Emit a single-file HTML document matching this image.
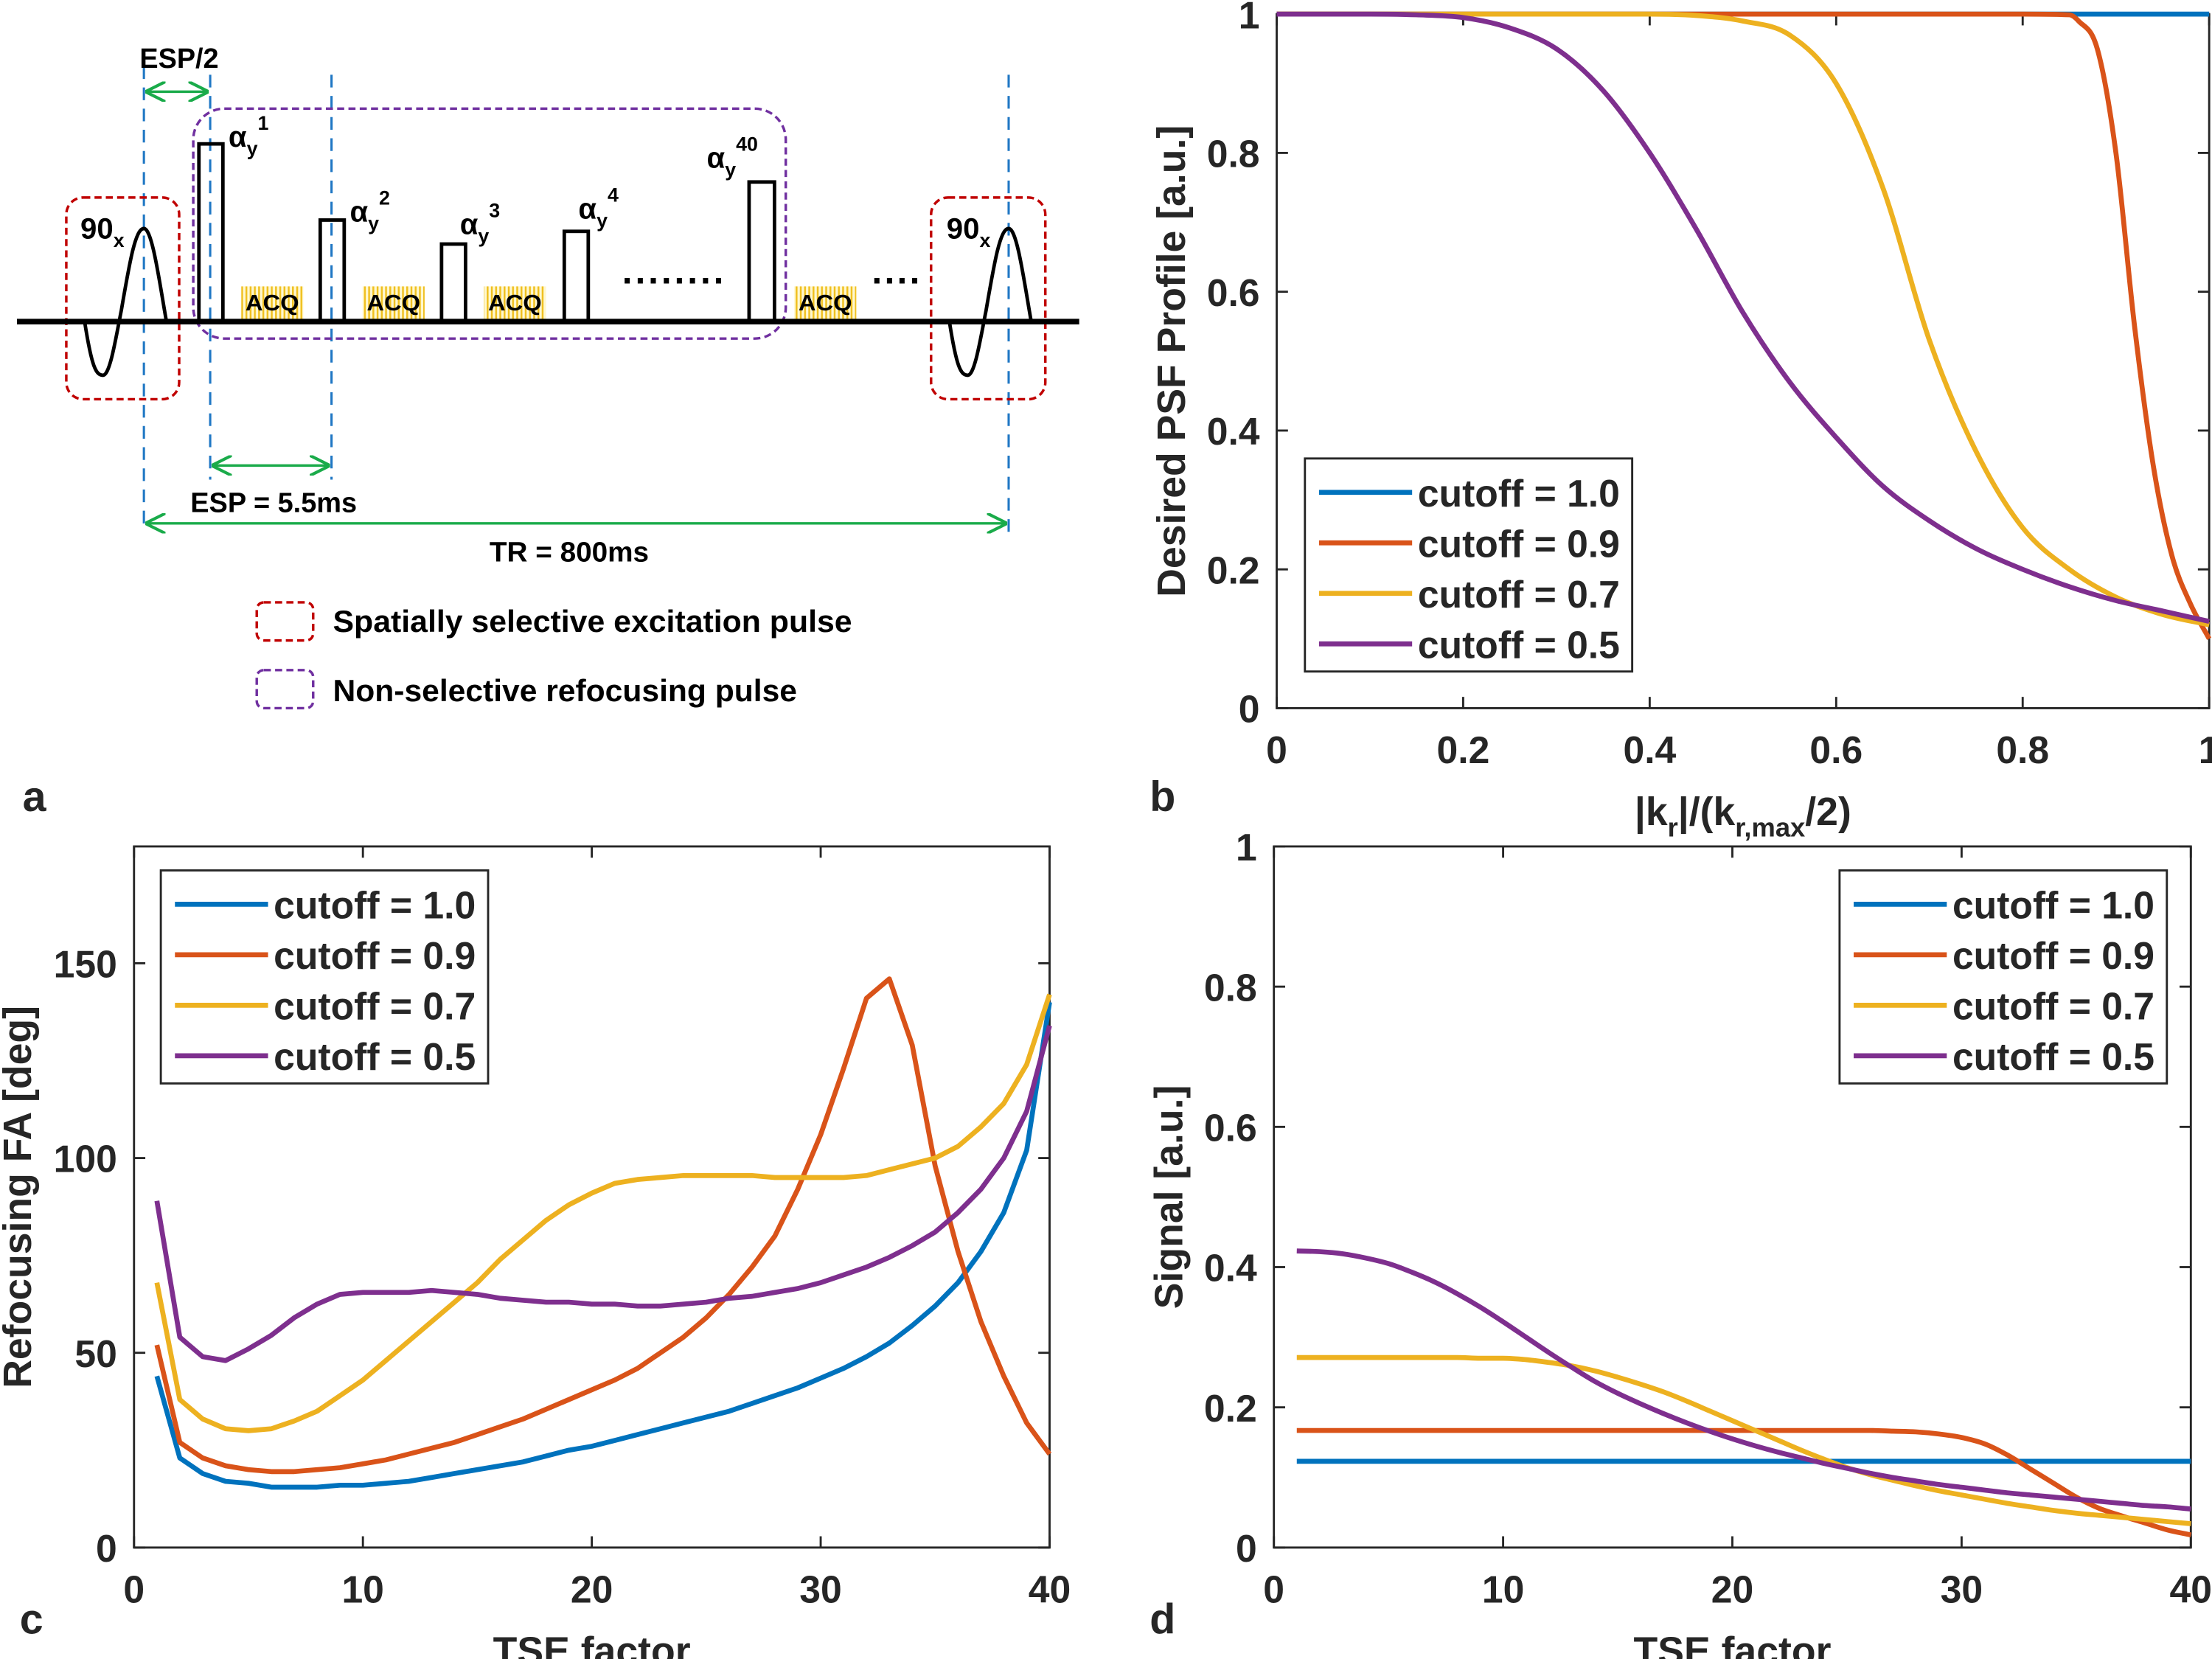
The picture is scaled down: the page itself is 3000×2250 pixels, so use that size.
<!DOCTYPE html>
<html><head><meta charset="utf-8"><style>
html,body{margin:0;padding:0;background:#fff;}
svg{display:block;}
text{font-family:"Liberation Sans",sans-serif;font-weight:bold;fill:#262626;}
.a text{fill:#000;}
</style></head><body>
<svg id="fig" width="3000" height="2250" viewBox="0 0 1568 1176" preserveAspectRatio="none" xmlns="http://www.w3.org/2000/svg">
<defs>
<pattern id="stripe" width="3" height="4" patternUnits="userSpaceOnUse"><rect width="3" height="4" fill="#fff8d0"/><rect width="1.3" height="4" fill="#f0c020"/></pattern>
<marker id="ah" viewBox="0 0 10 10" refX="10" refY="5" markerWidth="8" markerHeight="8" orient="auto-start-reverse"><path d="M0,0 L10,5 L0,10" fill="none" stroke="#1aab4a" stroke-width="1.5"/></marker>
</defs>
<!-- Panel a -->
<g class="a">
  <g stroke="#1f77c4" stroke-width="1.6" stroke-dasharray="9,6">
    <line x1="102" y1="47" x2="102" y2="377"/><line x1="149" y1="53" x2="149" y2="340"/>
    <line x1="235" y1="53" x2="235" y2="340"/><line x1="715" y1="53" x2="715" y2="377"/>
  </g>
  <rect x="47" y="140" width="80" height="143" rx="12" fill="none" stroke="#c00000" stroke-width="1.8" stroke-dasharray="5,3"/>
  <rect x="660" y="140" width="81" height="143" rx="12" fill="none" stroke="#c00000" stroke-width="1.8" stroke-dasharray="5,3"/>
  <rect x="137" y="77" width="420" height="163" rx="22" fill="none" stroke="#7030a0" stroke-width="1.8" stroke-dasharray="5,3"/>
  <g fill="url(#stripe)">
    <rect x="171" y="203" width="44" height="25"/><rect x="257" y="203" width="44" height="25"/>
    <rect x="343" y="203" width="44" height="25"/><rect x="563" y="203" width="44" height="25"/>
  </g>
  <g font-size="16" text-anchor="middle">
    <text x="193" y="220" textLength="38" lengthAdjust="spacingAndGlyphs">ACQ</text><text x="279" y="220" textLength="38" lengthAdjust="spacingAndGlyphs">ACQ</text><text x="365" y="220" textLength="38" lengthAdjust="spacingAndGlyphs">ACQ</text><text x="585" y="220" textLength="38" lengthAdjust="spacingAndGlyphs">ACQ</text>
  </g>
  <line x1="12" y1="228" x2="765" y2="228" stroke="#000" stroke-width="4"/>
  <g fill="none" stroke="#000" stroke-width="2.5">
    <rect x="141" y="102" width="17" height="126"/><rect x="227" y="156" width="17" height="72"/>
    <rect x="313" y="173" width="17" height="55"/><rect x="400" y="164" width="17" height="64"/>
    <rect x="531" y="129" width="18" height="99"/>
  </g>
  <path d="M60,228 C65,260 68,266 73,266 C78,266 82,240 86,220 C92,185 96,162 102,162 C108,162 113,200 118,228" fill="none" stroke="#000" stroke-width="2.5"/>
  <path d="M673,228 C678,260 681,266 686,266 C691,266 695,240 699,220 C705,185 709,162 715,162 C721,162 726,200 731,228" fill="none" stroke="#000" stroke-width="2.5"/>
  <g font-size="21">
    <text x="57" y="169">90<tspan font-size="14" dy="6">x</tspan></text>
    <text x="671" y="169">90<tspan font-size="14" dy="6">x</tspan></text>
    <text x="162" y="104">α<tspan font-size="14" dy="6">y</tspan><tspan font-size="14" dy="-18">1</tspan></text>
    <text x="248" y="157">α<tspan font-size="14" dy="6">y</tspan><tspan font-size="14" dy="-18">2</tspan></text>
    <text x="326" y="166">α<tspan font-size="14" dy="6">y</tspan><tspan font-size="14" dy="-18">3</tspan></text>
    <text x="410" y="155">α<tspan font-size="14" dy="6">y</tspan><tspan font-size="14" dy="-18">4</tspan></text>
    <text x="501" y="119">α<tspan font-size="14" dy="6">y</tspan><tspan font-size="14" dy="-18">40</tspan></text>
    <text x="441" y="201" font-size="26" textLength="72" lengthAdjust="spacing">........</text>
    <text x="618" y="201" font-size="26" textLength="34" lengthAdjust="spacing">....</text>
    <text x="99" y="48" font-size="20" textLength="56" lengthAdjust="spacingAndGlyphs">ESP/2</text>
    <text x="135" y="363" font-size="20" textLength="118" lengthAdjust="spacingAndGlyphs">ESP = 5.5ms</text>
    <text x="347" y="398" font-size="20" textLength="113" lengthAdjust="spacingAndGlyphs">TR = 800ms</text>
    <text x="236" y="448" font-size="22" textLength="368" lengthAdjust="spacingAndGlyphs">Spatially selective excitation pulse</text>
    <text x="236" y="497" font-size="22" textLength="329" lengthAdjust="spacingAndGlyphs">Non-selective refocusing pulse</text>
  </g>
  <g stroke="#1aab4a" stroke-width="1.8">
    <line x1="103" y1="65" x2="148" y2="65" marker-start="url(#ah)" marker-end="url(#ah)"/>
    <line x1="150" y1="330" x2="234" y2="330" marker-start="url(#ah)" marker-end="url(#ah)"/>
    <line x1="103" y1="371" x2="714" y2="371" marker-start="url(#ah)" marker-end="url(#ah)"/>
  </g>
  <rect x="182" y="427" width="40" height="27" rx="5" fill="none" stroke="#c00000" stroke-width="1.8" stroke-dasharray="5,3"/>
  <rect x="182" y="475" width="40" height="27" rx="5" fill="none" stroke="#7030a0" stroke-width="1.8" stroke-dasharray="5,3"/>
</g>
<g font-size="30">
  <text x="16" y="575" fill="#000">a</text><text x="815" y="575" fill="#000">b</text>
  <text x="14" y="1158" fill="#000">c</text><text x="815" y="1158" fill="#000">d</text>
</g>
<g id="charts"></g>
</svg>
<script>
// Panel b data
const bX90 = [0,0.8,0.85,0.86,0.88,0.9,0.92,0.94,0.96,0.98,1.0];
const bY90 = [1,1,0.999,0.99,0.95,0.8,0.55,0.35,0.22,0.15,0.1];
const bX = [0,0.05,0.1,0.15,0.2,0.25,0.3,0.35,0.4,0.45,0.5,0.55,0.6,0.65,0.7,0.75,0.8,0.85,0.9,0.95,1.0];
const bY100 = [1,1,1,1,1,1,1,1,1,1,1,1,1,1,1,1,1,1,1,1,1];
const bY70 = [1,1,1,1,1,1,1,1,1,0.998,0.99,0.97,0.9,0.75,0.53,0.37,0.26,0.2,0.16,0.135,0.12];
const bY50 = [1,1,1,0.999,0.995,0.98,0.95,0.89,0.8,0.69,0.57,0.47,0.39,0.32,0.27,0.23,0.2,0.175,0.155,0.14,0.125];
// Panel c data (TSE index 1..40)
const tse = [1,2,3,4,5,6,7,8,9,10,11,12,13,14,15,16,17,18,19,20,21,22,23,24,25,26,27,28,29,30,31,32,33,34,35,36,37,38,39,40];
const cFA100 = [44,23,19,17,16.5,15.5,15.5,15.5,16,16,16.5,17,18,19,20,21,22,23.5,25,26,27.5,29,30.5,32,33.5,35,37,39,41,43.5,46,49,52.5,57,62,68,76,86,102,140];
const cFA90 = [52,27,23,21,20,19.5,19.5,20,20.5,21.5,22.5,24,25.5,27,29,31,33,35.5,38,40.5,43,46,50,54,59,65,72,80,92,106,123,141,146,129,98,76,58,44,32,24];
const cFA70 = [68,38,33,30.5,30,30.5,32.5,35,39,43,48,53,58,63,68,74,79,84,88,91,93.5,94.5,95,95.5,95.5,95.5,95.5,95,95,95,95,95.5,97,98.5,100,103,108,114,124,142];
const cFA50 = [89,54,49,48,51,54.5,59,62.5,65,65.5,65.5,65.5,66,65.5,65,64,63.5,63,63,62.5,62.5,62,62,62.5,63,64,64.5,65.5,66.5,68,70,72,74.5,77.5,81,86,92,100,112,134];
// Panel d data
const dS100 = [0.123,0.123,0.123,0.123,0.123,0.123,0.123,0.123,0.123,0.123,0.123,0.123,0.123,0.123,0.123,0.123,0.123,0.123,0.123,0.123,0.123,0.123,0.123,0.123,0.123,0.123,0.123,0.123,0.123,0.123,0.123,0.123,0.123,0.123,0.123,0.123,0.123,0.123,0.123,0.123];
const dS90 = [0.167,0.167,0.167,0.167,0.167,0.167,0.167,0.167,0.167,0.167,0.167,0.167,0.167,0.167,0.167,0.167,0.167,0.167,0.167,0.167,0.167,0.167,0.167,0.167,0.167,0.167,0.166,0.165,0.162,0.157,0.148,0.132,0.112,0.092,0.072,0.056,0.045,0.035,0.025,0.018];
const dS70 = [0.271,0.271,0.271,0.271,0.271,0.271,0.271,0.271,0.27,0.27,0.268,0.264,0.259,0.252,0.243,0.233,0.222,0.209,0.195,0.181,0.167,0.153,0.139,0.126,0.114,0.104,0.096,0.088,0.081,0.075,0.069,0.063,0.058,0.053,0.049,0.046,0.043,0.04,0.037,0.034];
const dS50 = [0.423,0.422,0.419,0.413,0.405,0.393,0.379,0.362,0.343,0.322,0.3,0.278,0.257,0.237,0.22,0.205,0.191,0.178,0.166,0.155,0.145,0.136,0.128,0.12,0.113,0.106,0.1,0.095,0.09,0.086,0.082,0.078,0.075,0.072,0.069,0.066,0.063,0.06,0.058,0.055];
const legendLabels = ['cutoff = 1.0','cutoff = 0.9','cutoff = 0.7','cutoff = 0.5'];
const bTicks = [0,0.2,0.4,0.6,0.8,1];
const cXTicks = [0,10,20,30,40];
const cYTicks = [0,50,100,150];
const dYTicks = [0,0.2,0.4,0.6,0.8,1];
const colors = ['#0072BD','#D95319','#EDB120','#7E2F8E'];
const NS = 'http://www.w3.org/2000/svg';
const root = document.getElementById('charts');
function mk(tag, attrs, parent){const e=document.createElementNS(NS,tag);for(const k in attrs)e.setAttribute(k,attrs[k]);(parent||root).appendChild(e);return e;}
function fmt(v){return (Math.abs(v-Math.round(v))<1e-9)?String(Math.round(v)):v.toFixed(1);}
function axes(name, box, xr, yr, xt, yt, xlabel, ylabel, yLabelX){
  const g = mk('g',{});
  
  
  const sx = v => box.l + (v-xr[0])/(xr[1]-xr[0])*(box.r-box.l);
  const sy = v => box.b - (v-yr[0])/(yr[1]-yr[0])*(box.b-box.t);
  const frame = mk('rect',{x:box.l,y:box.t,width:box.r-box.l,height:box.b-box.t,fill:'none',stroke:'#262626','stroke-width':1.5},g);
  
  
  xt.forEach(v=>{const x=sx(v);
    mk('line',{x1:x,y1:box.b,x2:x,y2:box.b-8,stroke:'#262626','stroke-width':1.5},g);
    mk('line',{x1:x,y1:box.t,x2:x,y2:box.t+8,stroke:'#262626','stroke-width':1.5},g);
    const t=mk('text',{x:x,y:box.b+39,'font-size':27,'text-anchor':'middle'},g);t.textContent=fmt(v);
    
    });
  yt.forEach(v=>{const y=sy(v);
    mk('line',{x1:box.l,y1:y,x2:box.l+8,y2:y,stroke:'#262626','stroke-width':1.5},g);
    mk('line',{x1:box.r,y1:y,x2:box.r-8,y2:y,stroke:'#262626','stroke-width':1.5},g);
    const t=mk('text',{x:box.l-12,y:y+10,'font-size':27,'text-anchor':'end'},g);t.textContent=fmt(v);
    
    });
  const xl=mk('text',{x:(box.l+box.r)/2,y:box.b+83,'font-size':28,'text-anchor':'middle'},g);
  xl.innerHTML=xlabel;
  
  
  const cy=(box.t+box.b)/2;
  const yl=mk('text',{x:yLabelX,y:cy,'font-size':28,'text-anchor':'middle',transform:`rotate(-90 ${yLabelX} ${cy})`},g);
  yl.textContent=ylabel;
  
  
  return {g,sx,sy};
}
// monotone cubic path (Fritsch-Carlson) in pixel space
function smoothPath(P){
  const n=P.length; if(n<3) return P.map((p,i)=>(i?'L':'M')+p[0]+','+p[1]).join(' ');
  const d=[],m=[];
  for(let i=0;i<n-1;i++) d.push((P[i+1][1]-P[i][1])/(P[i+1][0]-P[i][0]));
  m[0]=d[0]; m[n-1]=d[n-2];
  for(let i=1;i<n-1;i++) m[i]=(d[i-1]*d[i]<=0)?0:(d[i-1]+d[i])/2;
  for(let i=0;i<n-1;i++){ if(d[i]===0){m[i]=0;m[i+1]=0;continue;}
    const a=m[i]/d[i],b=m[i+1]/d[i],s=a*a+b*b; if(s>9){const t=3/Math.sqrt(s);m[i]=t*a*d[i];m[i+1]=t*b*d[i];}}
  let s='M'+P[0][0].toFixed(2)+','+P[0][1].toFixed(2);
  for(let i=0;i<n-1;i++){const h=(P[i+1][0]-P[i][0])/3;
    s+=' C'+(P[i][0]+h).toFixed(2)+','+(P[i][1]+m[i]*h).toFixed(2)+' '+(P[i+1][0]-h).toFixed(2)+','+(P[i+1][1]-m[i+1]*h).toFixed(2)+' '+P[i+1][0].toFixed(2)+','+P[i+1][1].toFixed(2);}
  return s;
}
function series(ax, xs, ys, color, name, smooth){
  const P = xs.map((x,i)=>[ax.sx(x),ax.sy(ys[i])]);
  const d = smooth ? smoothPath(P) : P.map((p,i)=>(i?'L':'M')+p[0].toFixed(2)+','+p[1].toFixed(2)).join(' ');
  const p = mk('path',{d:d,fill:'none',stroke:color,'stroke-width':3.5,'stroke-linejoin':'round'},ax.g);
  
  
}
function legend(ax, x, y, name){
  const lg = mk('g',{},ax.g);
  
  
  mk('rect',{x:x,y:y,width:232,height:151,fill:'#fff',stroke:'#262626','stroke-width':1.5},lg);
  legendLabels.forEach((lab,i)=>{
    const yy = y+24+i*35.8;
    mk('line',{x1:x+10,y1:yy,x2:x+76,y2:yy,stroke:colors[i],'stroke-width':3.5},lg);
    const t = mk('text',{x:x+80,y:yy+10,'font-size':27},lg);
    t.textContent = lab;
    
    
  });
}
// Panel b
const axB = axes('psf-profile-chart',{l:905,r:1566,t:10,b:502},[0,1],[0,1],bTicks,bTicks,'|k<tspan font-size="19" dy="8">r</tspan><tspan dy="-8">|/(k</tspan><tspan font-size="19" dy="8">r,max</tspan><tspan dy="-8">/2)</tspan>','Desired PSF Profile [a.u.]',840);
series(axB,bX,bY100,colors[0],'psf-cutoff-1.0',true);
series(axB,bX90,bY90,colors[1],'psf-cutoff-0.9',true);
series(axB,bX,bY70,colors[2],'psf-cutoff-0.7',true);
series(axB,bX,bY50,colors[3],'psf-cutoff-0.5',true);
legend(axB,925,325,'psf-legend');
// Panel c
const axC = axes('refocusing-fa-chart',{l:95,r:744,t:600,b:1097},[0,40],[0,180],cXTicks,cYTicks,'TSE factor','Refocusing FA [deg]',22);
series(axC,tse,cFA100,colors[0],'fa-cutoff-1.0',false);
series(axC,tse,cFA90,colors[1],'fa-cutoff-0.9',false);
series(axC,tse,cFA70,colors[2],'fa-cutoff-0.7',false);
series(axC,tse,cFA50,colors[3],'fa-cutoff-0.5',false);
legend(axC,114,617,'fa-legend');
// Panel d
const axD = axes('signal-chart',{l:903,r:1553,t:600,b:1097},[0,40],[0,1],cXTicks,dYTicks,'TSE factor','Signal [a.u.]',838);
series(axD,tse,dS100,colors[0],'signal-cutoff-1.0',true);
series(axD,tse,dS90,colors[1],'signal-cutoff-0.9',true);
series(axD,tse,dS70,colors[2],'signal-cutoff-0.7',true);
series(axD,tse,dS50,colors[3],'signal-cutoff-0.5',true);
legend(axD,1304,617,'signal-legend');
</script>
</body></html>
